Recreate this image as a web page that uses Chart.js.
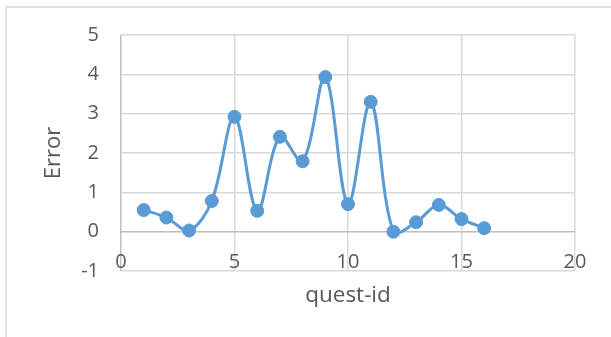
<!DOCTYPE html>
<html>
<head>
<meta charset="utf-8">
<script src="https://cdn.jsdelivr.net/npm/chart.js@4"></script>
<style>
  html, body { margin: 0; padding: 0; background: #ffffff; }
  #wrap { position: relative; width: 611px; height: 337px; overflow: hidden; }
  #frame { position: absolute; left: 5px; top: 6px; width: 700px; height: 400px;
           border: 2px solid #e3e3e3; box-sizing: border-box; }
  canvas { position: absolute; left: 0; top: 0; }
</style>
</head>
<body>
<div id="wrap">
  <div id="frame"></div>
  <canvas id="c" width="611" height="337"></canvas>
</div>
<script>
const questIds = [1, 2, 3, 4, 5, 6, 7, 8, 9, 10, 11, 12, 13, 14, 15, 16];
const errors   = [0.55, 0.36, 0.03, 0.78, 2.92, 0.53, 2.41, 1.79, 3.93, 0.70, 3.30, 0.00, 0.24, 0.68, 0.32, 0.09];
const xTicks = [0, 5, 10, 15, 20];
const yTicks = [-1, 0, 1, 2, 3, 4, 5];

const tickColor = '#595959';
const gridColor = '#d9d9d9';
const axisColor = '#bfbfbf';
const fontFamily = '"Open Sans", "Noto Sans", sans-serif';

new Chart(document.getElementById('c'), {
  type: 'line',
  data: {
    datasets: [{
      data: questIds.map((q, i) => ({ x: q, y: errors[i] })),
      borderColor: '#5B9BD5',
      backgroundColor: '#5B9BD5',
      borderWidth: 3,
      pointRadius: 6.5,
      pointBorderWidth: 1,
      pointBorderColor: '#5B9BD5',
      pointBackgroundColor: '#5B9BD5',
      tension: 0.35,
      fill: false
    }]
  },
  options: {
    responsive: false,
    animation: false,
    devicePixelRatio: 1,
    layout: { padding: { left: 0, top: 35, right: 36, bottom: 0 } },
    plugins: { legend: { display: false }, tooltip: { enabled: false } },
    scales: {
      x: {
        type: 'linear',
        min: xTicks[0],
        max: xTicks[xTicks.length - 1],
        afterBuildTicks: (s) => { s.ticks = xTicks.map(v => ({ value: v })); },
        afterFit: (s) => { s.height = 66; },
        grid: {
          drawTicks: false,
          color: (ctx) => (ctx.tick && ctx.tick.value === 0 ? axisColor : gridColor),
          lineWidth: 1.5
        },
        border: { display: false },
        ticks: {
          color: tickColor,
          mirror: true,
          padding: -3,
          maxRotation: 0,
          autoSkip: false,
          font: { family: fontFamily, size: 20 }
        },
        title: {
          display: true,
          text: 'quest-id',
          color: tickColor,
          padding: { top: 0, bottom: 28 },
          font: { family: fontFamily, size: 22.5 }
        }
      },
      y: {
        type: 'linear',
        min: yTicks[0],
        max: yTicks[yTicks.length - 1],
        afterBuildTicks: (s) => { s.ticks = yTicks.map(v => ({ value: v })); },
        afterFit: (s) => { s.width = 121; },
        grid: {
          drawTicks: false,
          color: (ctx) => (ctx.tick && ctx.tick.value === 0 ? axisColor : gridColor),
          lineWidth: 1.5
        },
        border: { display: false },
        ticks: {
          color: tickColor,
          padding: 22,
          font: { family: fontFamily, size: 20 }
        },
        title: {
          display: true,
          text: 'Error',
          color: tickColor,
          padding: { top: 41, bottom: 0 },
          font: { family: fontFamily, size: 22 }
        }
      }
    }
  }
});
</script>
</body>
</html>
